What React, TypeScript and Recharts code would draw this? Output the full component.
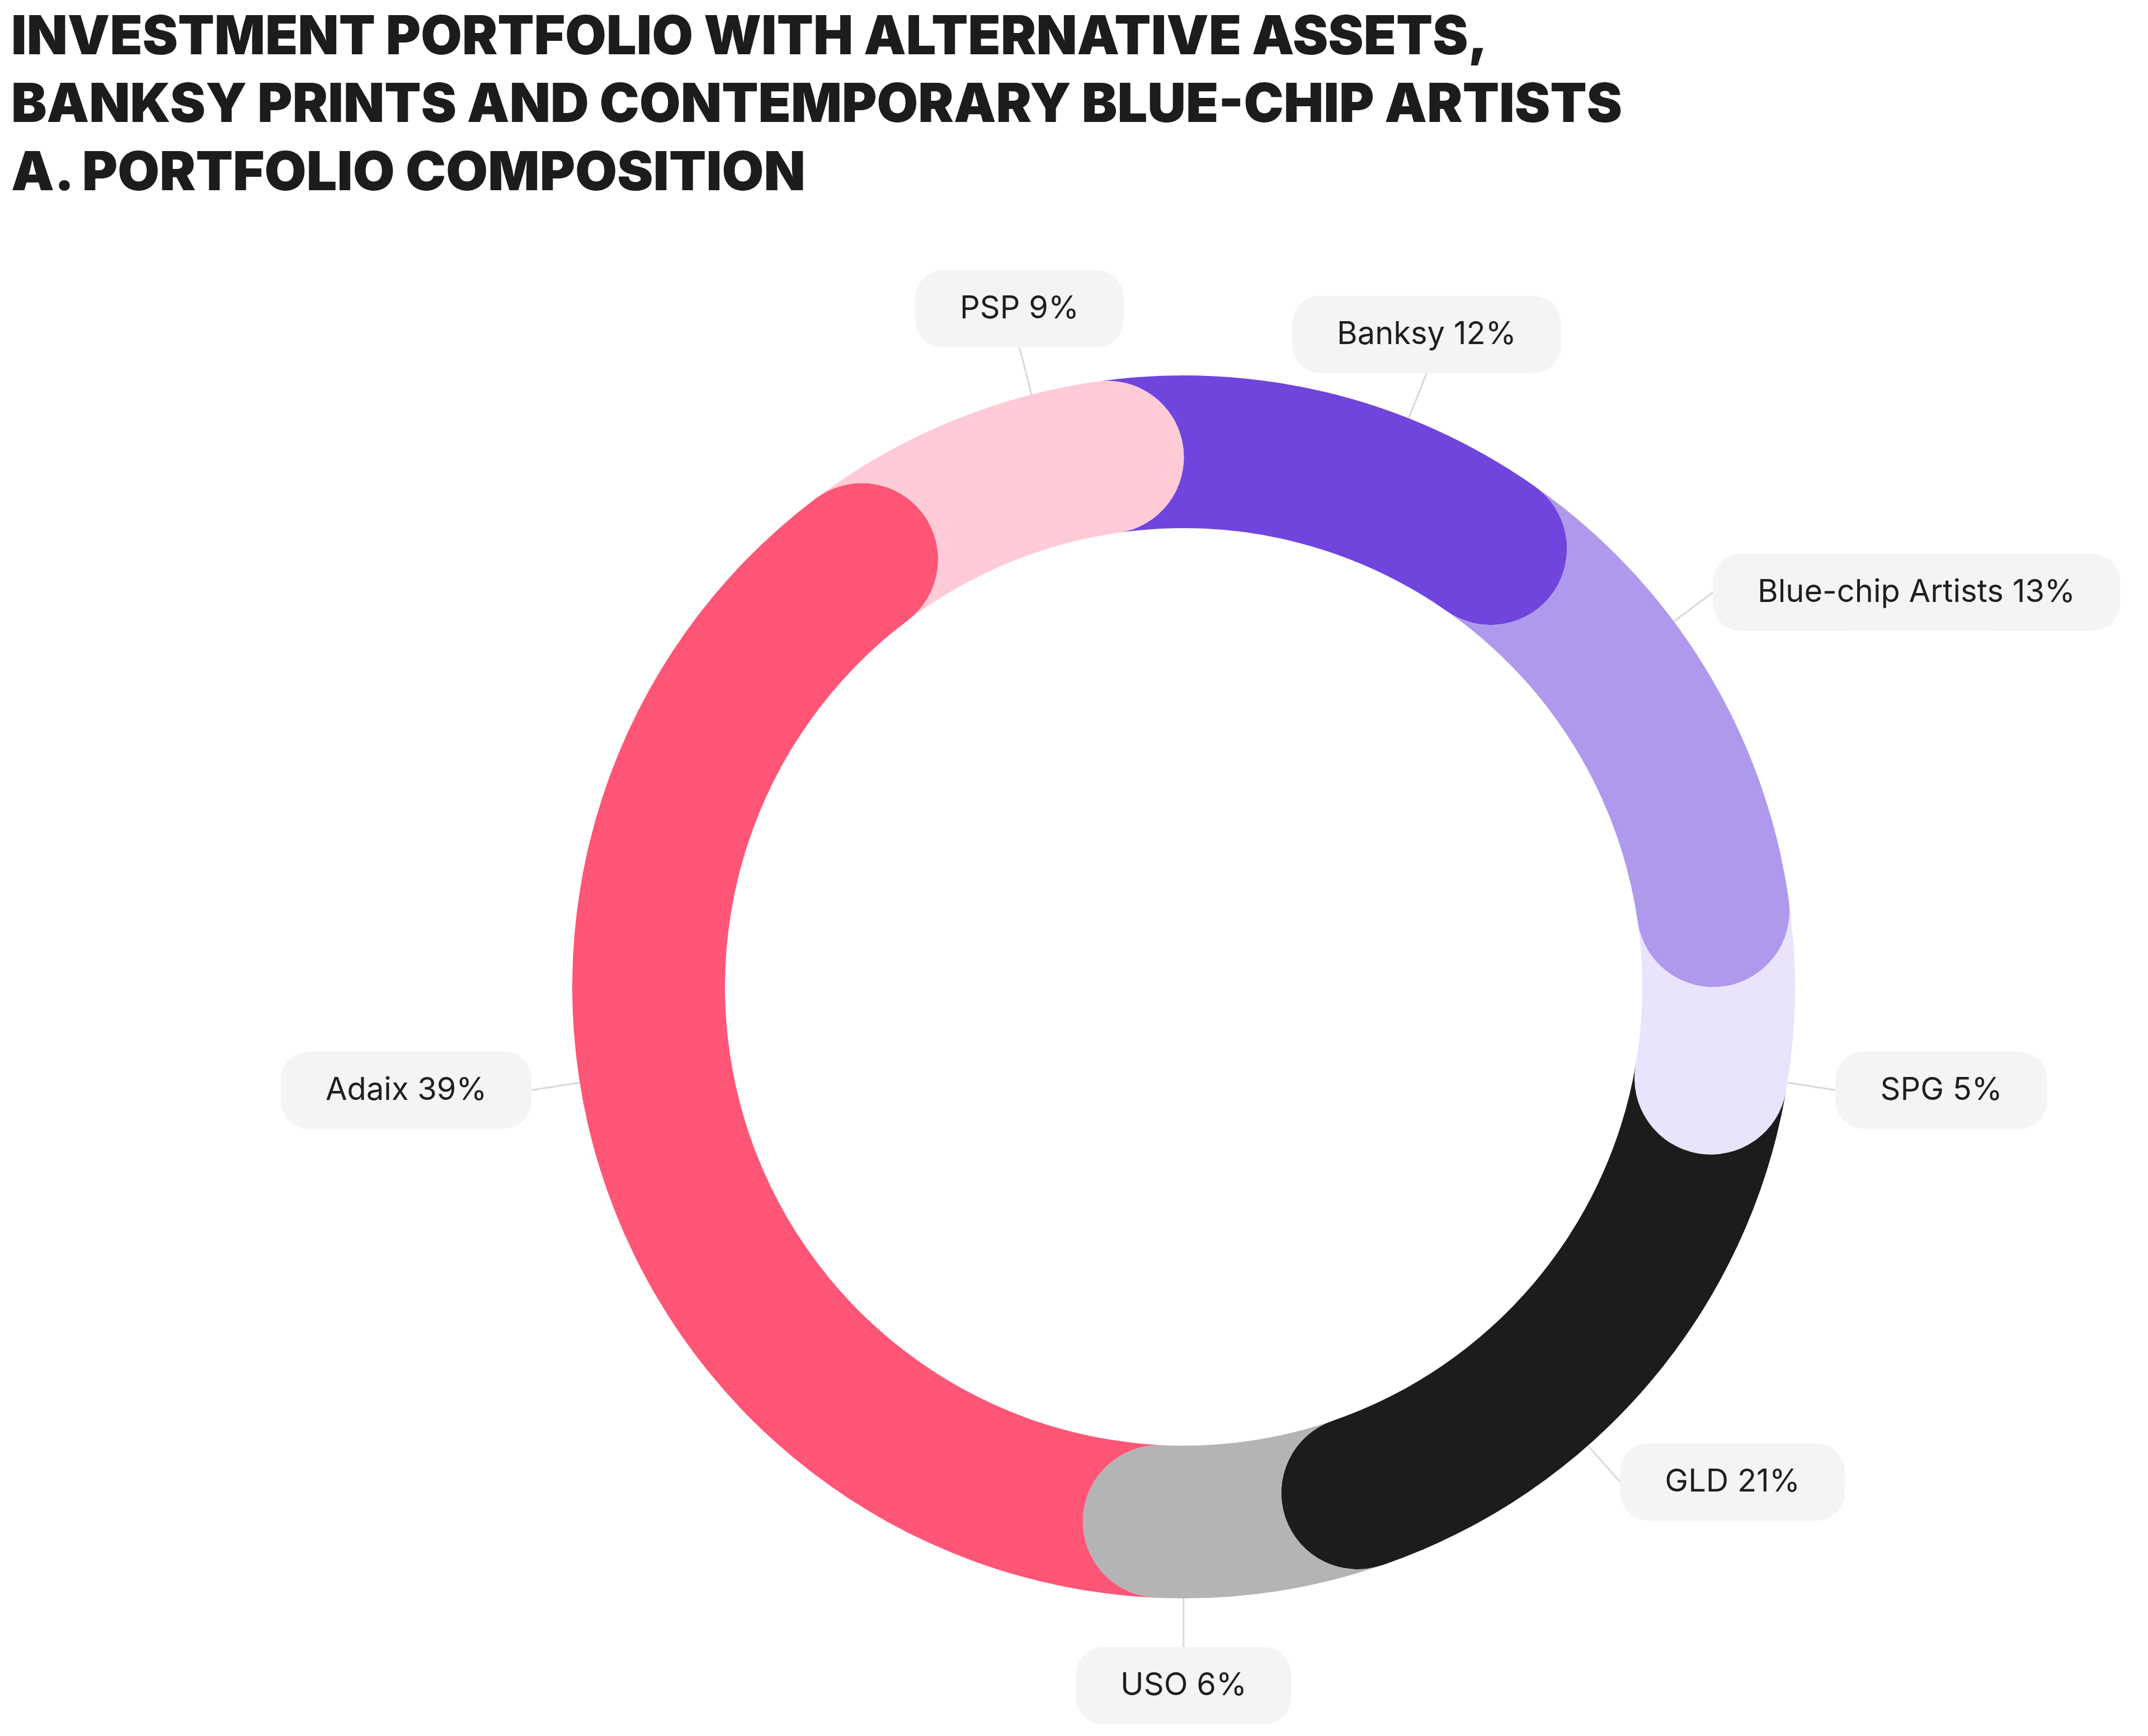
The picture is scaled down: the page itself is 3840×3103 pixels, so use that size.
import React from 'react';
import { PieChart, Pie, Cell } from 'recharts';

// ---- data ----
const assetNames = ['Banksy', 'Blue-chip Artists', 'SPG', 'GLD', 'USO', 'Adaix', 'PSP'];
const allocationValues = [12, 13, 5, 17, 6, 39, 8];
const labelPercents = [12, 13, 5, 21, 6, 39, 9];
const segmentColors = ['#7045DD', '#AF99EC', '#E9E3FB', '#1D1B1C', '#B4B4B4', '#FF5577', '#FFCBD6'];
const titleLines = [
  'INVESTMENT PORTFOLIO WITH ALTERNATIVE ASSETS,',
  'BANKSY PRINTS AND CONTEMPORARY BLUE-CHIP ARTISTS',
  'A. PORTFOLIO COMPOSITION',
];

// ---- layout ----
const W = 3840;
const H = 3103;
const CX = 2116;
const CY = 1764;
const R_OUT = 1093;
const R_IN = 820;
const LABEL_R = 1180;
const BOX_H = 138;
const BOX_PAD = 80;
const EDGE = 50;
const LABEL_FONT = 56;
const LABEL_FAMILY = 'Inter, "Noto Sans", sans-serif';
const TITLE_BASELINES = [97, 218, 340];
const TITLE_LENGTHS = [2640, 2880, 1420];

const data = assetNames.map((name, i) => ({ name, value: allocationValues[i] }));

const RAD = Math.PI / 180;
const pt = (cx: number, cy: number, r: number, a: number): [number, number] => [
  cx + r * Math.cos(a * RAD),
  cy - r * Math.sin(a * RAD),
];

let measureCtx: CanvasRenderingContext2D | null = null;
function measureText(text: string): number {
  if (!measureCtx && typeof document !== 'undefined') {
    measureCtx = document.createElement('canvas').getContext('2d');
  }
  if (!measureCtx) return text.length * LABEL_FONT * 0.55;
  measureCtx.font = `400 ${LABEL_FONT}px ${LABEL_FAMILY}`;
  return measureCtx.measureText(text).width;
}

function RoundedSegment(props: any) {
  const { cx, cy, innerRadius, outerRadius, startAngle, endAngle, fill } = props;
  const rc = (outerRadius - innerRadius) / 2;
  const rm = (outerRadius + innerRadius) / 2;
  const d = rc / rm / RAD;
  const a0 = startAngle + d;
  const a1 = endAngle + d;
  const large = Math.abs(startAngle - endAngle) > 180 ? 1 : 0;
  const [ox0, oy0] = pt(cx, cy, outerRadius, a0);
  const [ox1, oy1] = pt(cx, cy, outerRadius, a1);
  const [ix0, iy0] = pt(cx, cy, innerRadius, a0);
  const [ix1, iy1] = pt(cx, cy, innerRadius, a1);
  const path =
    `M ${ox0} ${oy0} ` +
    `A ${outerRadius} ${outerRadius} 0 ${large} 1 ${ox1} ${oy1} ` +
    `A ${rc} ${rc} 0 0 1 ${ix1} ${iy1} ` +
    `A ${innerRadius} ${innerRadius} 0 ${large} 0 ${ix0} ${iy0} ` +
    `A ${rc} ${rc} 0 0 0 ${ox0} ${oy0} Z`;
  return <path d={path} fill={fill} stroke="none" />;
}

function SegmentLabel(props: any) {
  const { cx, cy, midAngle, outerRadius, index } = props;
  const text = `${assetNames[index]} ${labelPercents[index]}%`;
  const w = measureText(text) + 2 * BOX_PAD;
  let a = midAngle;
  let cos = Math.cos(a * RAD);
  let sin = Math.sin(a * RAD);
  const side = Math.abs(cos) > 0.5;
  if (side) {
    const px = cx + LABEL_R * cos;
    if (cos > 0 && px + w > W - EDGE) {
      const c = (W - EDGE - w - cx) / LABEL_R;
      a = (Math.acos(Math.max(-1, Math.min(1, c))) / RAD) * (sin >= 0 ? 1 : -1);
    } else if (cos < 0 && px - w < EDGE) {
      const c = (EDGE + w - cx) / LABEL_R;
      a = (Math.acos(Math.max(-1, Math.min(1, c))) / RAD) * (sin >= 0 ? 1 : -1);
    }
    cos = Math.cos(a * RAD);
    sin = Math.sin(a * RAD);
  }
  const [ex, ey] = pt(cx, cy, outerRadius, a);
  const [px, py] = pt(cx, cy, LABEL_R, a);
  let bx: number;
  let by: number;
  if (side) {
    bx = cos > 0 ? px : px - w;
    by = py - BOX_H / 2;
  } else {
    bx = px - w / 2;
    by = sin > 0 ? py - BOX_H : py;
  }
  return (
    <g>
      <line x1={ex} y1={ey} x2={px} y2={py} stroke="#D8D8D8" strokeWidth={3} />
      <rect x={bx} y={by} width={w} height={BOX_H} rx={50} ry={50} fill="#F4F4F4" />
      <text
        x={bx + w / 2}
        y={by + BOX_H / 2 + 17}
        textAnchor="middle"
        fontFamily={LABEL_FAMILY}
        fontSize={LABEL_FONT}
        fontWeight={400}
        fill="#1E1E1E"
      >
        {text}
      </text>
    </g>
  );
}

export default function App() {
  return (
    <div style={{ position: 'absolute', left: 0, top: 0, width: W, height: H, background: '#FFFFFF' }}>
      <PieChart width={W} height={H} margin={{ top: 0, right: 0, bottom: 0, left: 0 }}>
        <Pie
          data={data}
          dataKey="value"
          nameKey="name"
          cx={CX}
          cy={CY}
          innerRadius={R_IN}
          outerRadius={R_OUT}
          startAngle={90}
          endAngle={-270}
          paddingAngle={0}
          stroke="none"
          isAnimationActive={false}
          shape={RoundedSegment}
          label={SegmentLabel}
          labelLine={false}
        >
          {data.map((d, i) => (
            <Cell key={d.name} fill={segmentColors[i]} />
          ))}
        </Pie>
      </PieChart>
      <svg width={W} height={400} style={{ position: 'absolute', left: 0, top: 0 }}>
        {titleLines.map((line, i) => (
          <text
            key={line}
            x={20}
            y={TITLE_BASELINES[i]}
            fontFamily='Inter, Lato, sans-serif'
            fontWeight={900}
            fontSize={96}
            fill="#1C1C1C"
            textLength={TITLE_LENGTHS[i]}
            lengthAdjust="spacingAndGlyphs"
          >
            {line}
          </text>
        ))}
      </svg>
    </div>
  );
}
